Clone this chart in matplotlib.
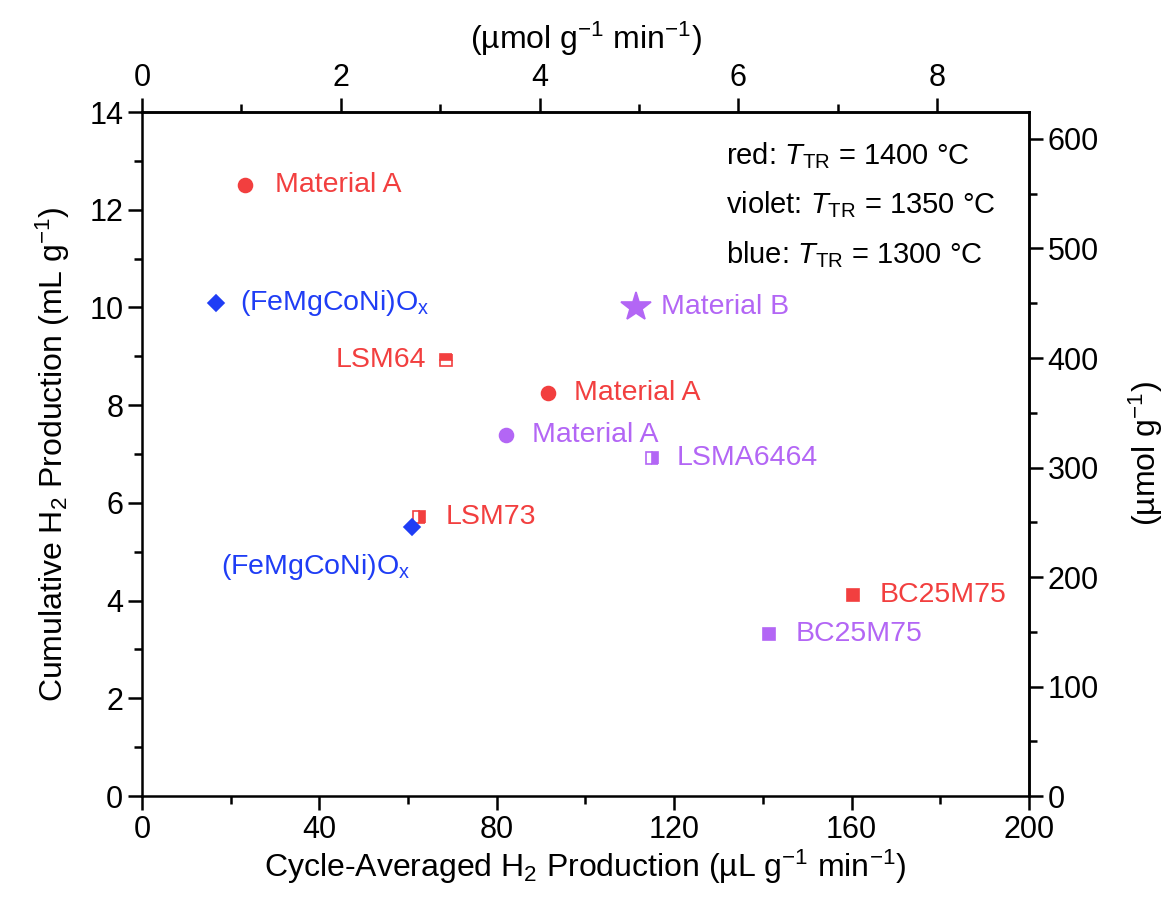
import matplotlib
matplotlib.use('Agg')
import matplotlib.pyplot as plt
from matplotlib.ticker import MultipleLocator

plt.rcParams['font.family'] = ['Liberation Sans', 'DejaVu Sans']
plt.rcParams['mathtext.fontset'] = 'custom'
plt.rcParams['mathtext.rm'] = 'Liberation Sans'
plt.rcParams['mathtext.it'] = 'Liberation Sans:italic'
plt.rcParams['mathtext.bf'] = 'Liberation Sans:bold'

# molar volume used to convert mL of H2 to mmol
VM = 22.414

red = '#F23F3F'
violet = '#B366F5'
blue = '#1F3DF5'

# cycle-averaged rate (uL/g/min), cumulative yield (mL/g)
names = ['Material A', '(FeMgCoNi)O$_\\mathregular{x}$', 'Material B', 'LSM64',
         'Material A', 'Material A', 'LSMA6464', 'LSM73',
         '(FeMgCoNi)O$_\\mathregular{x}$', 'BC25M75', 'BC25M75']
rate = [23.2, 16.7, 111.4, 68.5, 91.5, 82.1, 115.0, 62.5, 60.9, 160.3, 141.4]
cumul = [12.5, 10.1, 10.0, 8.92, 8.25, 7.39, 6.92, 5.71, 5.51, 4.11, 3.32]
colors = [red, blue, violet, red, red, violet, violet, red, blue, red, violet]
markers = ['o', 'D', '*', 's', 'o', 'o', 's', 's', 'D', 's', 's']
sizes = [10, 8, 22, 8, 10, 10, 8, 8, 8, 8, 8]
fills = ['full', 'full', 'full', 'top', 'full', 'full', 'right', 'right', 'full', 'full', 'full']
offsets = [(30, 0), (24, 0), (25, 0), (-20, 0), (26, 0), (26, 0), (25, 0), (26, 0),
           (-2, -40), (27, 0), (27, 0)]
aligns = ['left', 'left', 'left', 'right', 'left', 'left', 'left', 'left', 'right', 'left', 'left']

fig = plt.figure(figsize=(11.67, 9.05), dpi=100)
ax = fig.add_axes([0.1217, 0.1204, 0.76, 0.7558])

for i in range(len(rate)):
    ax.plot(rate[i], cumul[i], marker=markers[i], ms=sizes[i], color=colors[i],
            mec=colors[i], mfc=colors[i], fillstyle=fills[i], mfcalt='white',
            mew=1.2, ls='none', zorder=3)
    ax.annotate(names[i], (rate[i], cumul[i]), xytext=offsets[i],
                textcoords='offset pixels', ha=aligns[i], va='center',
                fontsize=20.5, color=colors[i])

ax.set_xlim(0, 200)
ax.set_ylim(0, 14)
ax.xaxis.set_major_locator(MultipleLocator(40))
ax.xaxis.set_minor_locator(MultipleLocator(20))
ax.yaxis.set_major_locator(MultipleLocator(2))
ax.yaxis.set_minor_locator(MultipleLocator(1))
ax.set_xlabel('Cycle-Averaged H$_2$ Production (\u00b5L g$^{-1}$ min$^{-1}$)', fontsize=23, labelpad=2)
ax.set_ylabel('Cumulative H$_2$ Production (mL g$^{-1}$)', fontsize=23, labelpad=12)

# secondary axes in molar units
top = ax.secondary_xaxis('top', functions=(lambda x: x / VM, lambda x: x * VM))
top.xaxis.set_major_locator(MultipleLocator(2))
top.xaxis.set_minor_locator(MultipleLocator(1))
top.set_xlabel('(\u00b5mol g$^{-1}$ min$^{-1}$)', fontsize=23, labelpad=10)

right = ax.secondary_yaxis('right', functions=(lambda y: y / VM * 1000, lambda y: y * VM / 1000))
right.yaxis.set_major_locator(MultipleLocator(100))
right.yaxis.set_minor_locator(MultipleLocator(50))
right.set_ylabel('(\u00b5mol g$^{-1}$)', fontsize=23, labelpad=20)

for a in (ax, top, right):
    a.tick_params(which='major', direction='out', length=10, width=1.8, labelsize=22)
    a.tick_params(which='minor', direction='out', length=6, width=1.8)
for s in ax.spines.values():
    s.set_linewidth(1.8)
top.spines['top'].set_linewidth(1.8)
right.spines['right'].set_linewidth(1.8)

# thermal-reduction temperature key
key = ['red: $T_\\mathregular{TR}$ = 1400 \u00b0C',
       'violet: $T_\\mathregular{TR}$ = 1350 \u00b0C',
       'blue: $T_\\mathregular{TR}$ = 1300 \u00b0C']
for j, t in enumerate(key):
    ax.text(0.658, 0.937 - j * 0.073, t, transform=ax.transAxes, fontsize=21,
            ha='left', va='center', color='black')

fig.savefig('out.png', dpi=100)
